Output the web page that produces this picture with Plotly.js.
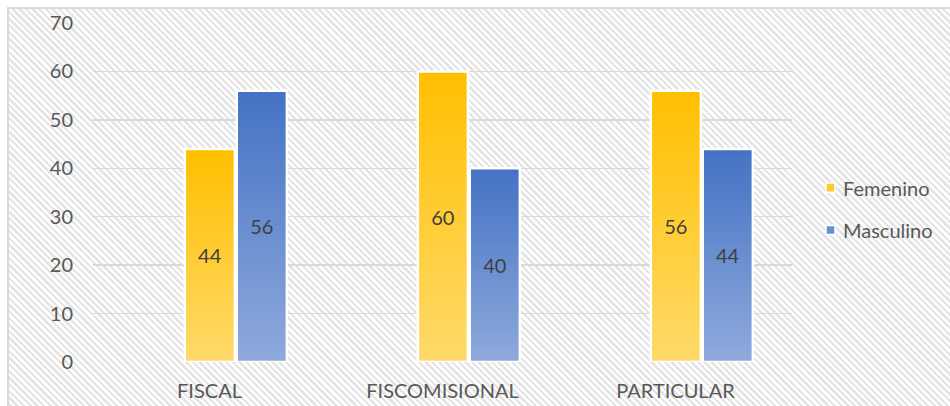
<!DOCTYPE html>
<html>
<head>
<meta charset="utf-8">
<script src="https://cdn.plot.ly/plotly-3.0.1.min.js"></script>
<style>
html, body { margin:0; padding:0; background:#fff; }
#wrap { position:relative; width:950px; height:406px; overflow:hidden; }
#bg { position:absolute; left:7px; top:7px; width:960px; height:420px;
  border-left:2px solid #d9d9d9; border-top:2px solid #d9d9d9;
  background: repeating-linear-gradient(45deg, #ffffff 0px, #ffffff 2.3px, #e5e5e5 2.3px, #e5e5e5 4.7px); }
#chart { position:absolute; left:0; top:0; width:950px; height:406px; }
</style>
</head>
<body>
<div id="wrap"><div id="bg"></div><div id="chart"></div></div>
<script>
const categories = ['FISCAL', 'FISCOMISIONAL', 'PARTICULAR'];
const femenino = [44, 60, 56];
const masculino = [56, 40, 44];
const seriesNames = ['Femenino', 'Masculino'];
const yTickValues = [0, 10, 20, 30, 40, 50, 60, 70];

const FONT = 'Lato, "Open Sans", sans-serif';
const txt = '#595959';
const solid = ['#FFCB33', '#6A8ED0'];

function barTrace(i, vals, offset) {
  return {
    type: 'bar', name: seriesNames[i], x: categories, y: vals,
    width: 0.215, offset: offset,
    text: vals.map(String), textposition: 'inside', insidetextanchor: 'middle',
    textangle: 0,
    textfont: {family: FONT, size: 20, color: '#404040'},
    marker: {color: solid[i], line: {color: '#ffffff', width: 2.5}},
    hoverinfo: 'none', showlegend: false
  };
}

const data = [
  barTrace(0, femenino, -0.106),
  barTrace(1, masculino, 0.117)
];

// custom legend (placement only)
const legY = [0.5145, 0.3895];
const annotations = seriesNames.map(function (n, i) {
  return {text: n, xref: 'paper', yref: 'paper', x: 1.0705, y: legY[i],
    xanchor: 'left', yanchor: 'middle', showarrow: false,
    font: {family: FONT, size: 20, color: txt}};
});
const shapes = seriesNames.map(function (n, i) {
  return {type: 'rect', xref: 'paper', yref: 'paper',
    x0: 1.0486, x1: 1.0615, y0: legY[i] - 0.0135, y1: legY[i] + 0.0135,
    fillcolor: solid[i], line: {color: '#ffffff', width: 1.5}};
});

const layout = {
  width: 950, height: 406,
  margin: {l: 93, r: 158, t: 23, b: 44},
  paper_bgcolor: 'rgba(0,0,0,0)', plot_bgcolor: 'rgba(0,0,0,0)',
  font: {family: FONT, size: 20, color: txt},
  xaxis: {type: 'category', showgrid: false, zeroline: false, showline: false,
    ticks: '', ticklabelstandoff: 15, tickfont: {family: FONT, size: 20, color: txt}},
  yaxis: {range: [0, 70], tickvals: yTickValues, showgrid: true, gridcolor: '#d9d9d9',
    gridwidth: 1.5, zeroline: false, showline: false, ticks: '',
    ticklabelstandoff: 19, tickfont: {family: FONT, size: 20, color: txt}},
  showlegend: false,
  annotations: annotations,
  shapes: shapes,
  bargap: 0
};

Plotly.newPlot('chart', data, layout, {displayModeBar: false, staticPlot: true}).then(function (gd) {
  const svg = gd.querySelector('svg.main-svg');
  let defs = svg.querySelector('defs');
  const NS = 'http://www.w3.org/2000/svg';
  function grad(id, top, bottom) {
    const g = document.createElementNS(NS, 'linearGradient');
    g.setAttribute('id', id);
    g.setAttribute('x1', '0'); g.setAttribute('y1', '0');
    g.setAttribute('x2', '0'); g.setAttribute('y2', '1');
    const s1 = document.createElementNS(NS, 'stop');
    s1.setAttribute('offset', '0'); s1.setAttribute('stop-color', top);
    const s2 = document.createElementNS(NS, 'stop');
    s2.setAttribute('offset', '1'); s2.setAttribute('stop-color', bottom);
    g.appendChild(s1); g.appendChild(s2); defs.appendChild(g);
  }
  grad('gradF', '#FFBF00', '#FFDA6A');
  grad('gradM', '#4472C4', '#8FAADC');
  const ids = ['gradF', 'gradM'];
  gd.querySelectorAll('.barlayer .trace').forEach(function (t, i) {
    t.querySelectorAll('.point path').forEach(function (p) { p.style.fill = 'url(#' + ids[i] + ')'; });
  });
});
</script>
</body>
</html>
